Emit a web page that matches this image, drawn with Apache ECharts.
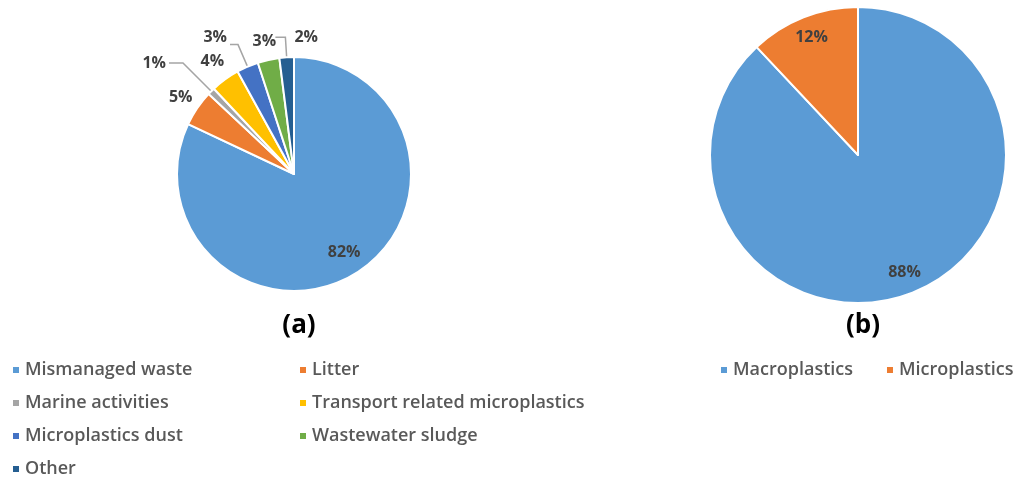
<!DOCTYPE html>
<html>
<head>
<meta charset="utf-8">
<script src="https://cdn.jsdelivr.net/npm/echarts@6/dist/echarts.min.js"></script>
<style>
  html, body { margin: 0; padding: 0; background: #fff; }
  #main { width: 1014px; height: 477px; }
</style>
</head>
<body>
<div id="main"></div>
<script>
var sources = ['Mismanaged waste', 'Litter', 'Marine activities', 'Transport related microplastics',
  'Microplastics dust', 'Wastewater sludge', 'Other'];
var sourceShares = [82, 5, 1, 4, 3, 3, 2];
var sourceColors = ['#5B9BD5', '#ED7D31', '#A5A5A5', '#FFC000', '#4472C4', '#70AD47', '#255E91'];

var sizes = ['Macroplastics', 'Microplastics'];
var sizeShares = [88, 12];
var sizeColors = ['#5B9BD5', '#ED7D31'];

// leader line lengths per slice of (a): [radial, horizontal]; shown only where the original draws one
var leaders = [null, [20, 0], [40, 14], [22, 0], [24, 8], [19, 0], [20, 10]];
var showLine = [false, false, true, false, true, false, true];

var labelFont = { fontSize: 16, fontWeight: 'bold', color: '#404040', fontFamily: 'Open Sans' };

var leftData = sources.map(function (n, i) {
  var item = { name: n, value: sourceShares[i], itemStyle: { color: sourceColors[i] } };
  if (i === 0) {
    item.label = { position: 'inside' };
    item.labelLine = { show: false };
  } else {
    item.labelLine = { show: showLine[i], length: leaders[i][0], length2: leaders[i][1] };
  }
  return item;
});

var rightData = sizes.map(function (n, i) {
  return { name: n, value: sizeShares[i], itemStyle: { color: sizeColors[i] } };
});

function pushOut(cx, cy, k) {
  return function (p) {
    if (p.labelRect == null) return {};
    var lx = p.labelRect.x + p.labelRect.width / 2;
    var ly = p.labelRect.y + p.labelRect.height / 2;
    return { dx: (lx - cx) * k, dy: (ly - cy) * k };
  };
}

var legendText = { fontSize: 18, lineHeight: 20, color: '#595959', fontFamily: 'Open Sans', fontWeight: 600 };

var mychart = echarts.init(document.getElementById('main'));
var option = {
  animation: false,
  title: [
    { text: '(a)', left: 294, top: 308, textAlign: 'center',
      textStyle: { fontSize: 26, fontWeight: 'bold', color: '#000', fontFamily: 'Open Sans' } },
    { text: '(b)', left: 858, top: 308, textAlign: 'center',
      textStyle: { fontSize: 26, fontWeight: 'bold', color: '#000', fontFamily: 'Open Sans' } }
  ],
  legend: [
    { orient: 'vertical', left: 11, top: 360, height: 130, padding: 0, itemGap: 13, itemWidth: 8, itemHeight: 8, icon: 'rect',
      data: [sources[0], sources[2], sources[4], sources[6]], textStyle: legendText },
    { orient: 'vertical', left: 298, top: 360, height: 130, padding: 0, itemGap: 13, itemWidth: 8, itemHeight: 8, icon: 'rect',
      data: [sources[1], sources[3], sources[5]], textStyle: legendText },
    { orient: 'horizontal', left: 719, top: 360, width: 320, padding: 0, itemGap: 32, itemWidth: 8, itemHeight: 8, icon: 'rect',
      data: sizes, textStyle: legendText }
  ],
  series: [
    {
      name: 'Sources',
      type: 'pie',
      center: [294, 174],
      radius: 117,
      startAngle: 90,
      clockwise: true,
      avoidLabelOverlap: false,
      itemStyle: { borderColor: '#fff', borderWidth: 2 },
      label: Object.assign({ show: true, position: 'outside', formatter: '{c}%', distanceToLabelLine: 3 }, labelFont),
      labelLine: { lineStyle: { color: '#A5A5A5', width: 1.5 } },
      labelLayout: function (p) {
        var i = p.dataIndex;
        if (i === 0) return pushOut(294, 174, 0.52)(p);
        if (i === 6) return { dx: p.labelRect.width + 22 };
        if (i === 4) return { dy: -7 };
        if (!showLine[i]) return { dx: p.labelRect.width / 2 + 3 };
        return {};
      },
      data: leftData
    },
    {
      name: 'Sizes',
      type: 'pie',
      center: [858, 155],
      radius: 148,
      startAngle: 90,
      clockwise: true,
      itemStyle: { borderColor: '#fff', borderWidth: 2 },
      label: Object.assign({ show: true, position: 'inside', formatter: '{c}%' }, labelFont),
      labelLayout: pushOut(858, 155, 0.64),
      data: rightData
    }
  ]
};
mychart.setOption(option);
</script>
</body>
</html>
